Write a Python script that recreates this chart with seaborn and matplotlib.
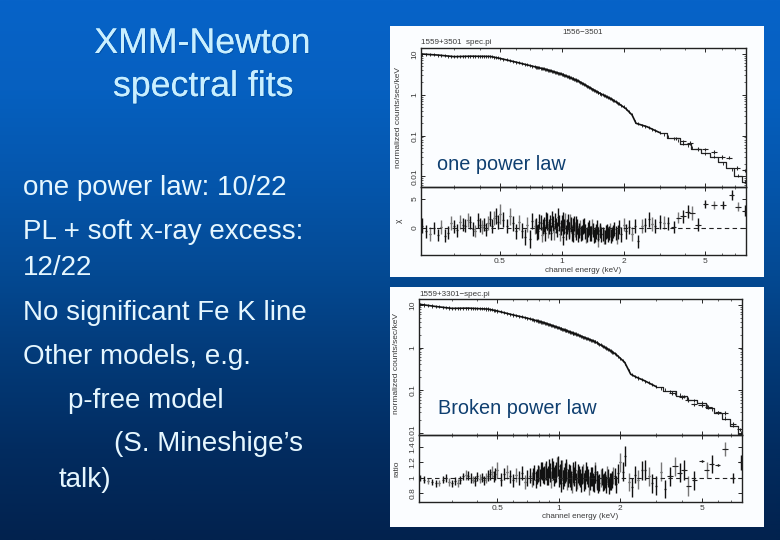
import numpy as np
import pandas as pd
import matplotlib
matplotlib.use('Agg')
import matplotlib.pyplot as plt
import matplotlib.patheffects as pe
from matplotlib.colors import LinearSegmentedColormap
from matplotlib.patches import Rectangle
from matplotlib.ticker import FixedLocator, NullFormatter
import seaborn as sns

sns.set_theme(style='white')
plt.rcParams['font.family'] = ['Liberation Sans', 'DejaVu Sans']

W, H = 780, 540

# фон слайда
bg_colors = ['#0763c8', '#0660c0', '#0556ac', '#044a94', '#033a78', '#022c60', '#02224e']

# слева текст
title_lines = [('XMM-Newton', 202, 53), ('spectral fits', 203, 96)]
body_lines = [
    ('one power law: 10/22', 23, 195),
    ('PL + soft x-ray excess:', 23, 239),
    ('12/22', 23, 275),
    ('No significant Fe K line', 23, 320),
    ('Other models, e.g.', 23, 364),
    ('p-free model', 68, 408),
    ('(S. Mineshige\u2019s', 114, 451),
    ('talk)', 59, 487),
]

# верхний спектр - модель
e_model_1 = [0.207, 0.25, 0.3, 0.36, 0.45, 0.5, 0.6, 0.7, 0.85, 1.0, 1.2, 1.5, 1.75, 1.9, 2.05, 2.2, 2.3, 2.6, 3.0, 3.5, 4.0, 4.5, 5.0, 5.5, 6.0, 6.6, 7.2, 7.85]
f_model_1 = [10.0, 9.4, 8.6, 8.8, 8.7, 7.8, 6.3, 5.2, 4.1, 3.2, 2.2, 1.15, 0.78, 0.6, 0.46, 0.32, 0.2, 0.165, 0.118, 0.085, 0.061, 0.047, 0.037, 0.03, 0.022, 0.016, 0.0105, 0.0072]

# точки спектров на высоких энергиях
e_pts_1 = [3.6, 3.9, 4.2, 4.6, 5.0, 5.5, 6.0, 6.5, 7.1, 7.8]
f_pts_1 = [0.086, 0.072, 0.066, 0.048, 0.046, 0.04, 0.03, 0.029, 0.016, 0.014]
e_pts_2 = [3.6, 4.0, 4.3, 4.6, 5.0, 5.4, 6.0, 6.5, 7.1, 7.7]
f_pts_2 = [0.085, 0.07, 0.058, 0.046, 0.044, 0.04, 0.03, 0.029, 0.016, 0.012]

# нижний спектр
e_model_2 = [0.207, 0.25, 0.3, 0.36, 0.45, 0.5, 0.6, 0.7, 0.85, 1.0, 1.2, 1.5, 1.75, 1.9, 2.1, 2.25, 2.4, 2.6, 3.0, 3.5, 4.0, 4.5, 5.0, 5.5, 6.0, 6.6, 7.2, 7.85]
f_model_2 = [10.4, 9.2, 8.3, 8.4, 8.0, 7.2, 5.8, 4.9, 3.8, 2.9, 2.1, 1.38, 0.9, 0.7, 0.45, 0.235, 0.2, 0.17, 0.12, 0.093, 0.073, 0.06, 0.05, 0.038, 0.029, 0.021, 0.014, 0.0095]

# остатки: энергия, значение, полуширина ошибки
e_res_1 = [0.21, 0.22, 0.23, 0.24, 0.25, 0.26, 0.27, 0.28, 0.29, 0.3, 0.31, 0.32, 0.33, 0.34, 0.35, 0.36, 0.37, 0.38, 0.39, 0.4, 0.41, 0.42, 0.43, 0.44, 0.45, 0.46, 0.47, 0.48, 0.49, 0.5, 0.52, 0.54, 0.56, 0.58, 0.6, 0.62, 0.64, 0.66, 0.68, 0.7, 0.72, 0.74, 0.76, 0.78, 0.8, 0.82, 0.84, 0.86, 0.88, 0.9, 0.92, 0.94, 0.96, 0.98, 1.0, 1.02, 1.04, 1.06, 1.08, 1.1, 1.12, 1.14, 1.16, 1.18, 1.2, 1.23, 1.26, 1.29, 1.32, 1.35, 1.38, 1.41, 1.44, 1.47, 1.5, 1.53, 1.56, 1.6, 1.64, 1.68, 1.72, 1.76, 1.8, 1.85, 1.9, 1.95, 2.0, 2.06, 2.12, 2.2, 2.28, 2.36, 2.45, 2.55, 2.65, 2.75, 2.85, 3.0, 3.15, 3.3, 3.5, 3.7, 3.9, 4.1, 4.3, 4.6, 5.0, 5.5, 6.1, 6.7, 7.2, 7.8]
v_res_1 = [0.4, -0.6, -1.0, 0.0, -1.2, 0.2, -1.3, -0.8, 0.9, 0.3, -0.4, 1.0, 0.6, 0.4, 1.4, 1.0, -0.2, -0.5, 1.3, 0.5, 0.2, 0.6, -0.3, 0.8, 1.6, 0.4, 1.8, 2.1, 1.0, 2.4, 1.4, 0.4, 2.0, 0.8, -0.6, 1.0, -0.5, -1.5, 0.6, -1.9, 1.2, 0.3, -0.8, 1.1, -1.2, 0.6, 1.4, -0.4, 0.9, 1.5, -0.7, 0.5, 1.9, -1.0, 0.8, -1.5, 1.2, 0.2, -0.6, 1.0, -0.9, 0.4, -0.3, 0.7, -1.1, 0.1, -0.8, 0.5, -1.3, -0.2, -1.0, 0.3, -1.4, -0.6, -1.9, -0.4, -1.1, -1.5, -0.7, -1.2, -0.4, -1.0, -0.2, -1.4, 0.1, -1.1, 0.6, -0.6, 0.2, -1.0, 0.3, -2.3, 0.4, 0.5, 1.5, 0.7, 0.4, 1.1, 0.9, 0.8, 0.2, 1.8, 2.0, 2.8, 2.6, 0.6, 4.2, 4.0, 4.0, 5.7, 3.7, 3.0]
s_res_1 = [1.3, 1.2, 1.2, 1.1, 1.1, 1.2, 1.1, 1.1, 1.2, 1.1, 1.1, 1.2, 1.2, 1.1, 1.2, 1.1, 1.2, 1.1, 1.3, 1.2, 1.2, 1.2, 1.1, 1.2, 1.3, 1.2, 1.2, 1.4, 1.2, 1.7, 1.3, 1.2, 1.4, 1.3, 1.3, 1.3, 1.3, 1.4, 1.3, 1.6, 1.3, 1.3, 1.3, 1.3, 1.3, 1.3, 1.4, 1.3, 1.4, 1.4, 1.3, 1.3, 1.5, 1.3, 1.4, 1.5, 1.4, 1.3, 1.3, 1.4, 1.3, 1.3, 1.3, 1.3, 1.3, 1.3, 1.3, 1.3, 1.3, 1.3, 1.3, 1.3, 1.2, 1.3, 1.3, 1.2, 1.3, 1.3, 1.2, 1.3, 1.2, 1.2, 1.2, 1.3, 1.2, 1.3, 1.2, 1.3, 1.2, 1.2, 1.2, 1.1, 1.2, 1.2, 1.3, 1.2, 1.2, 1.2, 1.1, 1.1, 1.0, 1.0, 1.1, 1.1, 1.2, 1.1, 0.7, 0.7, 0.7, 0.8, 0.8, 1.0]

# плотная часть - отдельный слой, энергии 0.75-1.9 кэВ
e_dense_1 = [0.75, 0.77, 0.79, 0.81, 0.83, 0.85, 0.87, 0.89, 0.91, 0.93, 0.95, 0.97, 0.99, 1.01, 1.03, 1.05, 1.07, 1.09, 1.11, 1.13, 1.15, 1.17, 1.19, 1.21, 1.24, 1.27, 1.3, 1.33, 1.36, 1.39, 1.42, 1.45, 1.48, 1.51, 1.54, 1.58, 1.62, 1.66, 1.7, 1.74, 1.78, 1.83, 1.88]
v_dense_1 = [0.5, -0.6, 0.9, 0.2, -0.9, 1.1, 0.3, -0.8, 0.7, 1.2, -0.3, 0.9, 0.1, 1.3, 0.3, -0.7, 1.0, -0.2, 0.6, -1.1, 0.8, -0.7, 0.3, -0.4, -1.0, 0.3, -0.6, -1.2, 0.1, -0.9, -0.3, -1.2, 0.1, -1.1, -0.6, -1.0, -1.6, -0.5, -0.9, -1.4, -0.6, -0.9, -0.7]
s_dense_1 = [1.3, 1.3, 1.3, 1.3, 1.3, 1.4, 1.3, 1.3, 1.3, 1.4, 1.3, 1.4, 1.3, 1.4, 1.3, 1.3, 1.4, 1.3, 1.3, 1.3, 1.3, 1.3, 1.3, 1.3, 1.3, 1.3, 1.3, 1.3, 1.3, 1.3, 1.2, 1.3, 1.2, 1.2, 1.2, 1.2, 1.2, 1.2, 1.2, 1.2, 1.2, 1.2, 1.2]

e_res_2 = [0.21, 0.22, 0.23, 0.24, 0.25, 0.26, 0.27, 0.28, 0.29, 0.3, 0.31, 0.32, 0.33, 0.34, 0.35, 0.36, 0.37, 0.38, 0.39, 0.4, 0.41, 0.42, 0.43, 0.44, 0.45, 0.46, 0.47, 0.48, 0.49, 0.5, 0.52, 0.54, 0.56, 0.58, 0.6, 0.62, 0.64, 0.66, 0.68, 0.7, 0.72, 0.74, 0.76, 0.78, 0.8, 0.82, 0.84, 0.86, 0.88, 0.9, 0.92, 0.94, 0.96, 0.98, 1.0, 1.02, 1.04, 1.06, 1.08, 1.1, 1.12, 1.14, 1.16, 1.18, 1.2, 1.23, 1.26, 1.29, 1.32, 1.35, 1.38, 1.41, 1.44, 1.47, 1.5, 1.53, 1.56, 1.6, 1.64, 1.68, 1.72, 1.76, 1.8, 1.85, 1.9, 1.95, 2.0, 2.06, 2.12, 2.2, 2.28, 2.36, 2.45, 2.55, 2.65, 2.75, 2.85, 3.0, 3.15, 3.3, 3.5, 3.7, 3.9, 4.1, 4.3, 4.6, 5.0, 5.3, 5.6, 6.0, 6.5, 7.1, 7.8]
v_res_2 = [1.0, 0.98, 0.96, 0.95, 0.93, 0.94, 0.98, 1.0, 0.95, 0.93, 0.96, 0.94, 0.97, 1.02, 1.04, 1.03, 1.0, 0.98, 0.96, 1.02, 0.99, 1.01, 0.97, 1.0, 1.03, 1.05, 1.08, 1.02, 1.05, 1.1, 0.98, 1.05, 1.08, 1.02, 0.97, 1.04, 1.0, 1.06, 0.95, 1.0, 1.03, 0.98, 1.07, 1.02, 1.06, 1.1, 1.04, 1.08, 1.02, 1.12, 0.98, 1.1, 1.05, 1.14, 1.0, 0.94, 1.1, 1.02, 1.08, 0.96, 1.06, 1.0, 0.92, 1.05, 1.1, 0.98, 1.03, 0.94, 1.06, 0.98, 1.04, 0.9, 1.02, 0.95, 1.08, 0.97, 0.92, 1.0, 0.94, 0.98, 1.04, 0.9, 0.96, 1.03, 0.92, 1.06, 1.2, 1.08, 1.28, 0.95, 0.88, 1.04, 0.98, 1.1, 1.1, 1.02, 0.93, 0.9, 1.08, 0.86, 1.02, 1.15, 1.07, 1.1, 0.9, 0.97, 1.22, 1.1, 1.18, 1.17, 1.37, 1.0, 1.2]
s_res_2 = [0.04, 0.04, 0.04, 0.04, 0.05, 0.04, 0.05, 0.05, 0.05, 0.05, 0.05, 0.05, 0.05, 0.05, 0.06, 0.06, 0.06, 0.05, 0.06, 0.06, 0.06, 0.06, 0.06, 0.06, 0.07, 0.07, 0.08, 0.07, 0.08, 0.1, 0.08, 0.08, 0.09, 0.08, 0.08, 0.09, 0.09, 0.09, 0.09, 0.1, 0.1, 0.1, 0.1, 0.1, 0.1, 0.11, 0.1, 0.11, 0.11, 0.12, 0.11, 0.12, 0.12, 0.13, 0.12, 0.12, 0.13, 0.12, 0.12, 0.12, 0.12, 0.12, 0.12, 0.12, 0.12, 0.12, 0.12, 0.12, 0.12, 0.12, 0.12, 0.12, 0.12, 0.12, 0.12, 0.12, 0.12, 0.12, 0.11, 0.11, 0.11, 0.11, 0.11, 0.11, 0.11, 0.12, 0.12, 0.12, 0.13, 0.12, 0.12, 0.11, 0.12, 0.12, 0.13, 0.12, 0.12, 0.12, 0.12, 0.12, 0.12, 0.12, 0.12, 0.13, 0.13, 0.12, 0.01, 0.1, 0.12, 0.01, 0.09, 0.06, 0.1]

e_dense_2 = [0.75, 0.77, 0.79, 0.81, 0.83, 0.85, 0.87, 0.89, 0.91, 0.93, 0.95, 0.97, 0.99, 1.01, 1.03, 1.05, 1.07, 1.09, 1.11, 1.13, 1.15, 1.17, 1.19, 1.21, 1.24, 1.27, 1.3, 1.33, 1.36, 1.39, 1.42, 1.45, 1.48, 1.51, 1.54, 1.58, 1.62, 1.66, 1.7, 1.74, 1.78, 1.83, 1.88]
v_dense_2 = [1.02, 0.98, 1.06, 1.01, 1.09, 1.04, 1.1, 1.03, 1.07, 1.13, 1.02, 1.08, 1.15, 1.05, 1.1, 0.98, 1.06, 1.12, 1.0, 1.05, 0.97, 1.08, 1.02, 0.95, 1.06, 1.0, 1.04, 0.95, 1.08, 1.0, 0.96, 1.02, 0.93, 1.05, 0.98, 0.94, 1.02, 0.96, 0.92, 1.0, 0.95, 0.98, 1.02]
s_dense_2 = [0.11, 0.11, 0.11, 0.11, 0.12, 0.12, 0.12, 0.12, 0.12, 0.13, 0.12, 0.13, 0.13, 0.13, 0.13, 0.12, 0.13, 0.13, 0.12, 0.12, 0.12, 0.12, 0.12, 0.12, 0.12, 0.12, 0.12, 0.12, 0.12, 0.12, 0.12, 0.12, 0.11, 0.12, 0.11, 0.11, 0.11, 0.11, 0.11, 0.11, 0.11, 0.11, 0.11]

res_colors = ['#111111', '#111111', '#777777']
minor_x = [0.3, 0.4, 0.6, 0.7, 0.8, 0.9, 3, 4, 6, 7]

fig = plt.figure(figsize=(W / 100, H / 100), dpi=100)


def px_axes(x0, y0, x1, y1, **kw):
    return fig.add_axes([x0 / W, 1 - y1 / H, (x1 - x0) / W, (y1 - y0) / H], **kw)


bg = px_axes(0, 0, W, H)
cmap = LinearSegmentedColormap.from_list('slide', bg_colors)
bg.imshow(np.linspace(0, 1, 256).reshape(-1, 1), cmap=cmap, aspect='auto', extent=(0, W, H, 0))
bg.set_xlim(0, W)
bg.set_ylim(H, 0)
bg.axis('off')
bg.add_patch(Rectangle((390, 26), 374, 251, fc='#fbfdff', ec='none'))
bg.add_patch(Rectangle((390, 287), 374, 240, fc='#fbfdff', ec='none'))

shadow = [pe.withSimplePatchShadow(offset=(0.7, -0.7), shadow_rgbFace='#02356f', alpha=0.35), pe.Normal()]
for txt, x, y in title_lines:
    bg.text(x, y, txt, color='#c9efff', fontsize=25.7, ha='center', va='baseline', path_effects=shadow)
for txt, x, y in body_lines:
    bg.text(x, y, txt, color='#e6f7ff', fontsize=20, ha='left', va='baseline')

lab = {'fontsize': 5.8, 'color': '#3a3a3a', 'va': 'center'}
bg.text(583, 33, '1556\u22123501', ha='center', **lab)
bg.text(421, 43, '1559+3501  spec.pi', ha='left', **lab)
bg.text(419, 295, '1559+3301\u2212spec.pi', ha='left', **lab)
bg.text(583, 271, 'channel energy (keV)', ha='center', **lab)
bg.text(580, 517, 'channel energy (keV)', ha='center', **lab)


def style_axes(ax, xticks_visible):
    ax.set_xscale('log')
    ax.set_xlim(0.207, 7.88)
    ax.set_xticks([0.5, 1, 2, 5])
    ax.set_xticklabels(['0.5', '1', '2', '5'] if xticks_visible else [])
    ax.xaxis.set_minor_locator(FixedLocator(minor_x))
    ax.xaxis.set_minor_formatter(NullFormatter())
    ax.tick_params(axis='both', which='major', direction='in', length=3.2, width=0.7,
                   labelsize=6, labelcolor='#3a3a3a', top=True, right=True, bottom=True, left=True, pad=2)
    ax.tick_params(axis='both', which='minor', direction='in', length=1.6, width=0.5,
                   top=True, right=True, bottom=True, left=True)
    for s in ax.spines.values():
        s.set_linewidth(1.0)
        s.set_color('#222222')
        s.set_visible(True)
    ax.set_xlabel('')


def spectrum_panel(box_top, box_res, e_m, f_m, e_p, f_p, e_r, v_r, s_r, e_d, v_d, s_d, ref, yticks_res, res_lim, ylab_res, ylim_top, ylab_x, ylab_y):
    ax = px_axes(*box_top, facecolor='none')
    ax2 = px_axes(*box_res, facecolor='none')

    df_m = pd.DataFrame({'e': e_m, 'f': f_m})
    sns.lineplot(data=df_m[df_m['e'] <= 3.0], x='e', y='f', ax=ax, color='#111111', lw=1.2, errorbar=None)
    sns.lineplot(data=df_m[df_m['e'] >= 3.0], x='e', y='f', ax=ax, color='#222222', lw=0.9,
                 drawstyle='steps-mid', errorbar=None)

    # пучок точек вдоль кривой
    e_all = list(e_r) + list(e_d)
    f_on = np.exp(np.interp(np.log(e_all), np.log(e_m), np.log(f_m)))
    ax.vlines(e_all, f_on * 0.92, f_on * 1.09, color='#111111', lw=0.6)
    ax.errorbar(e_p, f_p, yerr=[0.1 * f for f in f_p], xerr=[0.035 * e for e in e_p],
                fmt='none', ecolor='#222222', elinewidth=0.8)

    df_r = pd.DataFrame({'e': e_r + e_d, 'v': v_r + v_d, 's': s_r + s_d})
    ax2.vlines(df_r['e'], df_r['v'] - df_r['s'], df_r['v'] + df_r['s'],
               colors=[res_colors[i % 3] for i in range(len(e_r))] + ['#111111'] * len(e_d), lw=1.0)
    hi = df_r[df_r['e'] >= 3.5]
    ax2.hlines(hi['v'], hi['e'] * 0.97, hi['e'] * 1.03, color='#222222', lw=0.8)
    sns.scatterplot(data=df_r, x='e', y='v', ax=ax2, s=2, color='#111111', linewidth=0, legend=False)
    ax2.axhline(ref, color='#222222', lw=0.8, ls=(0, (4, 3)))

    ax.set_yscale('log')
    ax.set_ylim(*ylim_top)
    style_axes(ax, False)
    ax.set_yticks([0.01, 0.1, 1, 10])
    ax.set_yticklabels(['0.01', '0.1', '1', '10'], rotation=90, va='center')
    ax.set_ylabel('')

    ax2.set_ylim(*res_lim)
    style_axes(ax2, True)
    ax2.set_yticks(yticks_res)
    ax2.set_yticklabels([str(t) for t in yticks_res], rotation=90, va='center')
    ax2.set_ylabel('')

    y_mid_res = (box_res[1] + box_res[3]) / 2
    bg.text(ylab_x, ylab_y, 'normalized counts/sec/keV', rotation=90, ha='center', va='center', fontsize=6.0, color='#3a3a3a')
    bg.text(ylab_x, y_mid_res, ylab_res, rotation=90, ha='center', va='center', fontsize=6.0, color='#3a3a3a')


spectrum_panel((421, 48, 746, 187), (421, 187, 746, 255), e_model_1, f_model_1, e_pts_1, f_pts_1,
               e_res_1, v_res_1, s_res_1, e_dense_1, v_dense_1, s_dense_1,
               0, [0, 5], (-4.66, 7.07), '\u03c7', (0.0055, 14), 399, 117)
spectrum_panel((419, 299, 742, 435), (419, 435, 742, 502), e_model_2, f_model_2, e_pts_2, f_pts_2,
               e_res_2, v_res_2, s_res_2, e_dense_2, v_dense_2, s_dense_2,
               1, [0.8, 1, 1.2, 1.4], (0.69, 1.555), 'ratio', (0.0088, 13.8), 397, 364)

# подписи поверх графиков
top = px_axes(0, 0, W, H, facecolor='none')
top.set_xlim(0, W)
top.set_ylim(H, 0)
top.axis('off')
top.text(437, 164, 'one power law', fontsize=14.3, color='#0f3f70', ha='left', va='center')
top.text(438, 408, 'Broken power law', fontsize=14.3, color='#0f3f70', ha='left', va='center')

fig.savefig('out.png', dpi=100)
